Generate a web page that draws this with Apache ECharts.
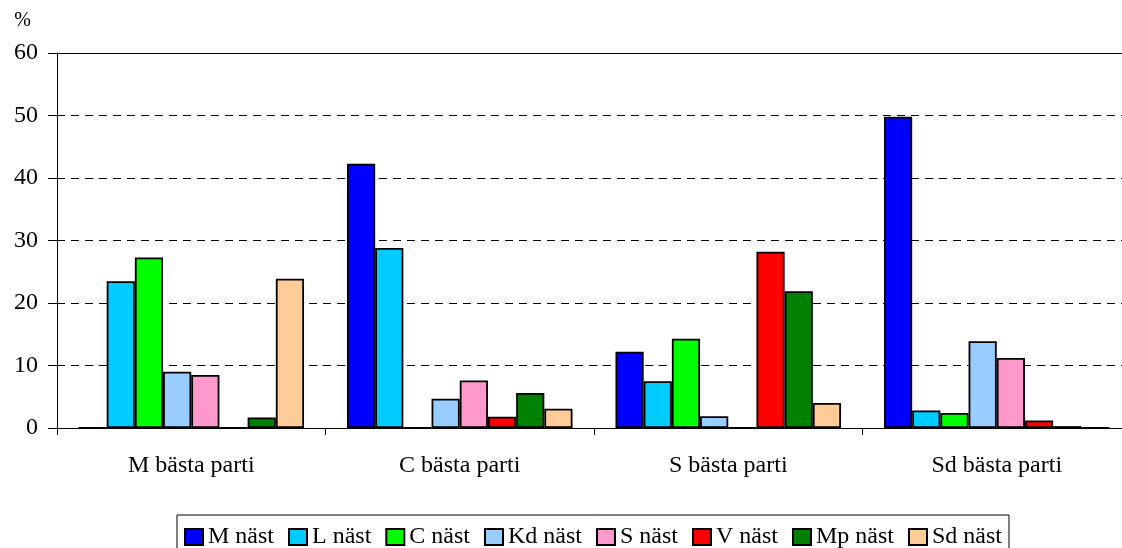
<!DOCTYPE html>
<html><head><meta charset="utf-8">
<script src="https://cdn.jsdelivr.net/npm/echarts@6/dist/echarts.min.js"></script>
<style>html,body{margin:0;padding:0;background:#fff;overflow:hidden;width:1122px;height:548px}#c{width:1131px;height:548px}</style>
</head><body><div id="c"></div>
<script>
const categories = ['M bästa parti', 'C bästa parti', 'S bästa parti', 'Sd bästa parti'];
const seriesNames = ['M näst', 'L näst', 'C näst', 'Kd näst', 'S näst', 'V näst', 'Mp näst', 'Sd näst'];
const colors = ['#0000FF', '#00CCFF', '#00FF00', '#99CCFF', '#FF99CC', '#FF0000', '#008000', '#FFCC99'];
const M_nast  = [0, 42.3, 12.2, 49.8];
const L_nast  = [23.5, 28.8, 7.5, 2.8];
const C_nast  = [27.3, 0, 14.3, 2.4];
const Kd_nast = [9.0, 4.7, 1.9, 13.9];
const S_nast  = [8.5, 7.6, 0, 11.2];
const V_nast  = [0, 1.8, 28.2, 1.2];
const Mp_nast = [1.7, 5.6, 21.9, 0.3];
const Sd_nast = [23.9, 3.1, 4.0, 0];
const yTicks = [0, 10, 20, 30, 40, 50, 60];

const allData = [M_nast, L_nast, C_nast, Kd_nast, S_nast, V_nast, Mp_nast, Sd_nast];
const font = 'Liberation Serif, Times New Roman, serif';
const chart = echarts.init(document.getElementById('c'));
chart.setOption({
  animation: false,
  textStyle: { fontFamily: font, color: '#000' },
  grid: { left: 57, right: 0, top: 53, height: 375, containLabel: false },
  xAxis: [{
    type: 'category', data: categories,
    axisLine: { lineStyle: { color: '#000', width: 1 } },
    axisTick: { show: true, length: 7, lineStyle: { color: '#000' } },
    axisLabel: { fontFamily: font, fontSize: 24, color: '#000', margin: 26 },
    splitLine: { show: false }
  }, {
    type: 'category', data: categories, position: 'top',
    axisLine: { show: true, lineStyle: { color: '#000', width: 1 } },
    axisTick: { show: false }, axisLabel: { show: false }, splitLine: { show: false }
  }],
  yAxis: {
    type: 'value', min: yTicks[0], max: yTicks[yTicks.length - 1], interval: 10,
    name: '%', nameLocation: 'end', nameGap: 22,
    nameTextStyle: { fontFamily: font, fontSize: 20, color: '#000', align: 'right', padding: [0, 26, 0, 0] },
    axisLine: { show: true, lineStyle: { color: '#000', width: 1 } },
    axisTick: { show: true, length: 9, lineStyle: { color: '#000' } },
    axisLabel: { fontFamily: font, fontSize: 24, color: '#000', margin: 19 },
    splitLine: { show: true, lineStyle: { color: '#000', type: [8, 6], width: 1 } }
  },
  legend: {
    data: seriesNames, left: 177, top: 515,
    itemWidth: 18, itemHeight: 16, itemGap: 14,
    padding: [10, 7, 12, 7],
    borderColor: '#000', borderWidth: 1,
    textStyle: { fontFamily: font, fontSize: 24, color: '#000' },
    icon: 'rect',
    itemStyle: { borderColor: '#000', borderWidth: 2 }
  },
  series: seriesNames.map((n, i) => ({
    name: n, type: 'bar', data: allData[i], xAxisIndex: 0,
    barGap: '0%', barCategoryGap: '16%',
    itemStyle: { color: colors[i], borderColor: '#000', borderWidth: 1.8 }
  }))
});
</script></body></html>
